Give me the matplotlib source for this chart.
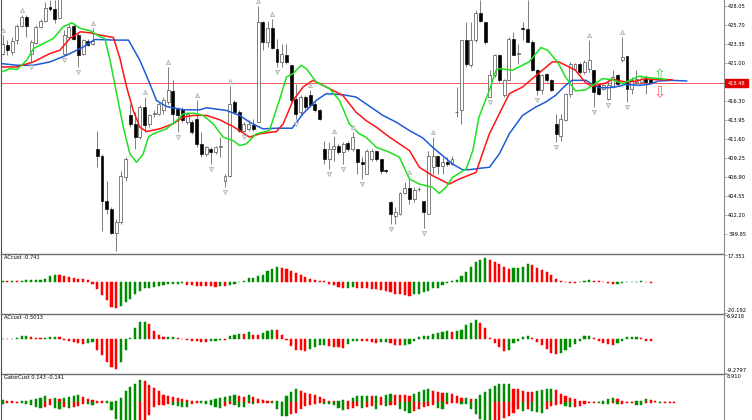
"""Candles with Alligator lines, fractals and three oscillator panels (MT5 style)."""

import numpy as np
import matplotlib
matplotlib.use("Agg")
from matplotlib import pyplot as plt
from matplotlib import transforms
from matplotlib.lines import Line2D
from matplotlib.patches import Rectangle

# ---------------------------------------------------------------- data
opens = [422.17, 423.20, 422.38, 423.83, 425.57, 426.64, 422.17, 423.49, 425.48, 426.23,
         427.89, 427.64, 426.52, 422.17, 424.24, 425.57, 424.45, 422.17, 423.74, 423.33,
         410.36, 409.53, 403.93, 402.89, 399.99, 401.24, 406.83, 414.50, 413.38, 411.81,
         415.54, 413.38, 414.62, 414.71, 415.12, 416.16, 417.53, 415.33, 415.33, 413.67,
         413.67, 414.09, 410.98, 409.73, 410.36, 409.94, 410.56, 406.42, 407.04, 416.16,
         414.91, 412.63, 412.84, 413.26, 413.67, 426.11, 423.62, 425.28, 422.79, 421.13,
         421.96, 420.72, 416.57, 414.91, 416.78, 416.99, 415.95, 415.20, 410.36, 409.11,
         410.36, 410.77, 409.94, 411.06, 410.36, 410.36, 408.70, 407.25, 409.11, 410.15,
         409.11, 407.74, 403.72, 402.07, 402.27, 404.84, 405.50, 404.14, 405.38, 403.93,
         402.27, 408.08, 409.53, 408.28, 408.70, 408.49, 414.91, 415.12, 423.83, 420.72,
         423.83, 427.14, 426.11, 416.78, 419.47, 421.96, 416.99, 418.85, 424.03, 422.09,
         425.32, 425.15, 423.62, 420.10, 417.61, 419.60, 418.93, 413.46, 412.01, 413.88,
         417.19, 420.30, 420.92, 419.89, 420.30, 420.10, 418.23, 417.82, 416.57, 418.02,
         419.47, 421.34, 421.84, 417.82, 418.64, 418.64, 419.06, 419.06]
highs = [424.45, 423.83, 424.16, 425.82, 426.93, 426.93, 423.83, 425.69, 426.40, 428.59,
         428.80, 428.80, 429.20, 425.07, 425.90, 425.98, 424.86, 424.03, 424.03, 425.28,
         412.63, 409.73, 406.42, 403.10, 401.65, 407.66, 409.32, 415.95, 414.91, 415.74,
         416.78, 414.71, 415.12, 416.16, 416.78, 420.51, 418.85, 415.54, 415.54, 414.91,
         413.88, 416.37, 412.43, 410.77, 410.56, 410.77, 411.81, 407.25, 418.11, 416.37,
         415.12, 413.67, 413.88, 414.09, 428.00, 426.20, 426.25, 426.40, 424.03, 423.41,
         423.41, 420.72, 418.44, 416.99, 416.99, 417.61, 416.16, 415.33, 411.39, 411.19,
         412.01, 410.98, 411.19, 411.39, 412.43, 410.36, 409.32, 410.36, 410.36, 410.15,
         409.11, 407.87, 403.93, 403.10, 404.97, 406.21, 406.83, 405.59, 405.59, 403.93,
         410.15, 411.81, 409.53, 409.32, 409.32, 409.53, 418.02, 423.83, 426.11, 426.11,
         427.56, 428.80, 426.11, 420.10, 422.17, 422.17, 419.06, 424.16, 424.86, 423.41,
         426.11, 428.80, 423.83, 420.30, 419.68, 419.76, 419.06, 414.71, 414.71, 417.28,
         421.13, 421.01, 421.13, 421.34, 423.83, 420.10, 418.44, 418.44, 418.85, 420.10,
         419.60, 424.24, 421.84, 419.27, 420.10, 419.47, 419.47, 419.18]
lows = [421.96, 421.96, 421.96, 423.41, 425.48, 424.24, 421.13, 423.41, 425.28, 426.11,
        427.47, 425.90, 426.40, 421.96, 424.03, 423.83, 420.51, 421.96, 423.08, 423.20,
        408.08, 400.20, 402.27, 399.78, 397.71, 401.03, 406.42, 413.05, 410.36, 411.60,
        412.43, 413.13, 414.29, 414.50, 414.71, 415.95, 413.46, 412.43, 413.67, 413.46,
        412.22, 410.56, 409.32, 409.53, 408.49, 409.73, 409.32, 405.59, 406.83, 414.71,
        412.43, 412.43, 412.63, 412.63, 413.67, 422.58, 423.00, 422.79, 420.51, 420.51,
        420.92, 416.16, 414.09, 414.50, 415.33, 415.54, 414.91, 413.96, 408.49, 407.87,
        408.90, 409.73, 408.49, 410.15, 410.15, 407.25, 406.62, 407.25, 408.90, 408.90,
        407.25, 407.33, 401.03, 401.03, 402.19, 404.76, 403.52, 403.72, 405.17, 400.61,
        402.27, 407.25, 407.25, 407.25, 408.28, 408.41, 414.29, 413.46, 420.51, 420.51,
        423.62, 426.11, 423.41, 416.78, 419.27, 418.64, 416.78, 418.85, 421.96, 420.92,
        423.83, 423.62, 420.01, 416.99, 417.19, 418.64, 417.53, 411.18, 411.39, 413.80,
        416.78, 420.10, 419.68, 419.68, 419.89, 415.54, 416.99, 417.69, 416.37, 417.94,
        418.23, 421.13, 416.16, 417.19, 418.44, 418.52, 417.19, 418.35]
closes = [423.41, 422.58, 423.74, 425.57, 426.73, 425.57, 423.62, 425.48, 426.23, 427.76,
          427.64, 426.40, 428.90, 424.45, 425.48, 423.91, 421.96, 423.83, 423.20, 423.74,
          409.53, 403.93, 402.89, 399.99, 401.24, 407.04, 409.11, 413.46, 411.81, 415.54,
          413.26, 414.50, 414.79, 415.95, 416.37, 417.61, 414.71, 414.50, 413.88, 414.71,
          412.43, 410.98, 409.73, 410.56, 409.94, 410.56, 410.77, 407.04, 415.95, 414.91,
          412.63, 413.46, 413.46, 412.84, 426.11, 423.62, 425.28, 422.85, 421.13, 422.17,
          421.13, 416.37, 414.71, 416.78, 415.54, 415.74, 415.12, 414.09, 409.11, 410.36,
          410.77, 409.94, 410.98, 410.36, 411.81, 408.70, 408.49, 410.15, 410.15, 409.11,
          407.66, 407.58, 402.27, 402.48, 404.84, 405.50, 404.14, 405.26, 405.40, 402.48,
          409.53, 409.53, 408.28, 408.70, 408.49, 409.11, 414.95, 423.83, 420.92, 423.83,
          427.14, 426.15, 423.62, 419.47, 421.96, 418.85, 418.85, 424.03, 422.00, 422.25,
          425.15, 423.65, 420.10, 417.61, 419.47, 418.85, 417.61, 412.22, 414.09, 417.19,
          420.92, 420.92, 419.89, 421.13, 421.34, 417.40, 417.19, 418.23, 418.23, 419.27,
          418.44, 421.76, 417.82, 418.85, 419.06, 419.06, 418.64, 418.48]

last_price = 418.48
price_ticks = [428.05, 425.70, 423.35, 421.00, 416.30, 413.95, 411.60,
               409.25, 406.90, 404.55, 402.20, 399.85]

# Alligator lines, read at sample bars (bar position, price)
jaw_x = [-0.2, 3.0, 6.5, 10.0, 13.5, 17.1, 19.5, 24.1, 26.6, 29.0, 31.1, 32.5, 34.6, 38.2,
         41.7, 43.1, 47.3, 50.1, 52.2, 55.0, 57.9, 61.2, 63.5, 66.3, 68.4, 71.9, 74.7, 76.8,
         80.4, 83.2, 86.0, 88.8, 90.9, 93.0, 95.1, 97.2, 98.6, 101.4, 102.9, 105.0, 107.1,
         109.9, 112.7, 114.8, 116.9, 119.0, 120.4, 123.3, 124.7, 126.1, 128.2, 130.3, 131.7,
         134.5, 136.6, 138.7, 141.5, 144.6]
jaw_y = [420.92, 420.72, 420.72, 421.13, 421.96, 423.00, 423.91, 423.83, 423.83, 421.34,
         418.44, 416.37, 415.62, 415.20, 415.20, 415.45, 415.12, 414.50, 413.67, 412.84,
         412.92, 412.92, 414.71, 416.37, 417.19, 417.07, 416.78, 415.95, 414.50, 413.67,
         412.63, 411.72, 410.56, 409.53, 408.49, 407.78, 407.78, 407.99, 408.08, 409.73,
         412.22, 414.50, 415.54, 416.16, 416.99, 418.23, 418.85, 418.85, 418.35, 417.94,
         417.94, 418.11, 418.35, 418.23, 418.35, 418.77, 418.85, 418.77]
teeth_x = [-0.2, 3.0, 6.5, 10.0, 12.1, 14.2, 16.4, 18.5, 20.6, 23.4, 24.8, 26.2, 27.6, 29.0,
           30.4, 33.2, 36.0, 38.2, 40.3, 43.1, 45.9, 48.7, 52.2, 54.3, 57.9, 59.3, 61.4, 63.5,
           65.6, 67.7, 71.9, 74.7, 76.8, 79.0, 81.8, 83.9, 86.0, 88.1, 90.9, 93.7, 94.4, 96.5,
           100.1, 101.4, 102.9, 105.0, 107.1, 109.9, 112.0, 114.1, 116.2, 117.6, 119.0, 121.1,
           123.3, 124.7, 127.5, 128.9, 131.7, 133.8, 135.9, 138.0, 141.5]
teeth_y = [420.51, 420.51, 421.13, 422.17, 422.58, 424.03, 424.86, 424.74, 424.45, 424.16,
           421.55, 418.02, 415.12, 413.05, 412.51, 412.84, 413.46, 414.29, 414.50, 414.50,
           413.96, 413.13, 411.81, 412.22, 412.51, 413.46, 416.37, 418.02, 418.85, 418.23,
           416.99, 414.91, 413.88, 413.05, 411.81, 410.98, 410.15, 408.08, 407.04, 406.21,
           406.00, 406.62, 407.45, 409.73, 412.22, 414.71, 417.19, 418.02, 419.06, 420.10,
           421.13, 421.13, 420.72, 420.10, 418.52, 418.11, 418.52, 418.98, 418.64, 418.73,
           419.06, 418.93, 418.93]
lips_x = [-0.2, 1.6, 3.0, 5.1, 6.5, 8.6, 10.7, 12.8, 14.6, 16.4, 18.5, 20.6, 21.6, 22.7, 24.1,
          25.5, 26.9, 28.3, 29.7, 30.8, 31.8, 34.6, 36.8, 38.2, 40.3, 42.4, 44.5, 46.6, 48.7,
          50.1, 51.5, 53.6, 56.4, 58.5, 60.0, 61.4, 63.1, 64.2, 66.3, 69.1, 71.2, 73.3, 75.4,
          76.8, 79.0, 81.8, 83.9, 86.0, 88.1, 90.9, 92.3, 93.7, 95.1, 98.0, 99.4, 100.7, 102.9,
          104.3, 105.0, 107.8, 111.3, 113.8, 115.2, 117.3, 119.0, 121.1, 123.3, 124.7, 126.8,
          128.9, 131.0, 133.1, 134.5, 136.6, 138.7, 140.2]
lips_y = [419.89, 420.30, 420.18, 421.34, 422.79, 423.41, 424.03, 425.48, 425.98, 425.28,
          424.99, 424.24, 424.03, 421.34, 417.19, 413.05, 409.73, 408.70, 409.73, 411.81,
          412.22, 412.84, 413.88, 414.71, 414.79, 414.50, 413.46, 411.81, 411.39, 410.77,
          410.98, 412.22, 412.63, 416.37, 419.27, 419.68, 420.72, 420.30, 418.64, 417.82,
          416.37, 413.46, 412.22, 411.81, 410.56, 409.94, 409.32, 406.62, 406.00, 405.59,
          404.84, 405.59, 406.83, 407.87, 410.15, 414.29, 417.61, 420.10, 420.30, 420.10,
          421.13, 422.91, 422.58, 421.13, 419.27, 417.53, 417.69, 418.23, 419.06, 418.93,
          418.44, 418.98, 419.35, 419.18, 419.06, 418.98]

fractal_up = [0, 4, 19, 30, 35, 41, 48, 54, 57, 65, 70, 74, 86, 91, 101, 124, 131]
fractal_dn = [6, 13, 16, 24, 37, 44, 47, 51, 58, 62, 69, 72, 76, 82, 89, 103, 113, 117,
              125, 128, 132]

signal_bar = 138.8
signal_up_price = 419.55
signal_dn_price = 417.35

ac_fast = [0.3, 0.2, 0.3, 0.2, 0.6, 0.7, 0.8, 1.0, 1.2, 1.8,
           3.5, 4.4, 4.0, 3.5, 2.6, 2.2, 1.8, 1.5, 1.3, -1.3,
           -4.8, -8.8, -12.1, -16.5, -17.1, -15.4, -13.2, -11.0, -8.3, -6.1,
           -4.4, -3.9, -3.3, -2.9, -2.2, -1.8, -1.5, -1.3, -1.1, -2.2,
           -2.5, -2.6, -2.9, -3.0, -3.1, -3.2, -2.9, -3.0, -2.2, -1.5,
           -0.2, 0.2, 2.0, 2.2, 3.3, 4.4, 6.6, 8.3, 9.2, 9.0,
           8.3, 7.0, 5.5, 4.0, 3.1, 1.8, 0.9, 0.4, 0.2, -1.3,
           -2.2, -3.3, -4.1, -4.0, -3.7, -4.0, -4.3, -4.4, -4.8, -5.0,
           -5.5, -6.1, -6.6, -7.7, -8.3, -8.8, -9.2, -8.3, -7.7, -6.6,
           -5.9, -4.4, -4.0, -2.2, -1.1, 0.2, 1.3, 3.5, 6.1, 9.2,
           12.3, 14.1, 14.9, 13.6, 12.7, 11.0, 9.2, 8.3, 8.6, 8.8,
           9.2, 11.0, 10.5, 8.8, 7.7, 6.1, 4.0, 1.8, 0.4, -0.4,
           -0.7, -0.9, -0.4, 0.2, 0.7, 0.6, 0.4, -0.1, -1.1, -1.8,
           -1.5, -0.7, -0.2, -0.1, 0.0, 0.1, -0.2, -0.741]
ac_slow = [0.1, 0.05, 0.1, 0.4, 0.85, 0.9, 0.66, 0.5, 0.47, 0.55,
           0.6, 0.66, 0.57, -0.1, -0.3, -0.66, -1.04, -1.2, -0.85, -0.75,
           -2.9, -4.3, -6.2, -7.6, -8.1, -6.2, -2.9, 0.4, 3.2, 4.8,
           4.9, 4.2, 2.3, 1.3, 0.6, 0.66, 0.7, 0.4, 0.1, -0.1,
           -0.3, -0.5, -0.57, -0.6, -0.47, -0.3, -0.1, -0.15, 0.85, 1.3,
           1.6, 1.5, 2.0, 1.3, 1.2, 1.8, 2.3, 2.7, 2.5, 1.3,
           -0.1, -1.8, -2.9, -3.0, -3.1, -2.7, -2.0, -1.5, -1.4, -1.8,
           -2.0, -2.2, -2.3, -1.2, -0.4, -0.3, -0.35, -0.5, -0.66, -0.85,
           -0.7, -0.66, -0.85, -1.4, -1.5, -1.4, -1.2, -0.5, 0.66, 0.85,
           1.1, 1.6, 1.8, 2.0, 2.3, 2.2, 2.35, 2.7, 4.0, 4.6,
           5.3, 4.6, 3.1, 0.4, -0.85, -2.0, -3.1, -2.9, -0.85, -0.5,
           0.57, 1.1, 0.47, -0.57, -1.5, -2.5, -3.7, -3.9, -3.7, -2.9,
           -2.2, -1.2, -0.3, 0.85, 1.1, 0.4, -0.3, -0.85, -1.2, -1.6,
           -0.85, -0.3, 0.57, 0.66, 0.7, 0.4, -0.3, -0.5013]
gator_up = [0.6, 0.5, 0.3, 0.2, 0.25, 0.3, 0.6, 1.0, 1.5, 2.0,
            1.2, 1.4, 1.0, 1.5, 1.8, 2.0, 2.2, 1.6, 1.0, 0.8,
            0.4, 0.3, 0.5, 0.2, 0.5, 1.3, 3.5, 5.0, 6.0, 7.0,
            6.8, 5.5, 4.5, 3.5, 2.3, 2.0, 1.6, 1.3, 1.0, 0.6,
            0.4, 0.3, 0.35, 0.5, 0.8, 1.0, 1.5, 1.7, 1.9, 2.2,
            2.1, 1.7, 2.2, 1.6, 1.1, 0.6, 0.3, 0.25, 0.55, 0.2,
            2.0, 3.3, 4.1, 3.5, 3.1, 2.8, 2.2, 1.6, 0.9, 0.55,
            0.3, 0.55, 0.6, 0.5, 1.3, 1.9, 2.0, 2.1, 1.9, 2.0,
            1.8, 2.4, 2.6, 2.45, 2.4, 2.2, 2.1, 2.8, 3.3, 3.9,
            4.1, 3.5, 3.3, 3.0, 3.1, 2.75, 2.0, 1.3, 1.4, 0.9,
            1.0, 2.2, 3.3, 4.4, 5.2, 5.7, 5.8, 5.85, 4.4, 4.2,
            3.5, 3.3, 3.2, 3.5, 3.9, 4.1, 4.2, 3.9, 2.75, 2.0,
            1.4, 1.1, 0.55, 0.5, 0.2, 0.15, 0.2, 0.55, 0.9, 1.3,
            0.9, 0.55, 0.2, 0.15, 0.33, 0.55, 0.9, 0.85, 0.55, 0.2,
            0.18, 0.16, 0.143]
gator_dn = [0.5, 0.4, 0.2, 0.2, 0.3, 0.6, 1.0, 1.5, 2.0, 1.5,
            1.0, 2.0, 2.1, 1.5, 1.8, 1.5, 1.2, 0.6, 0.7, 0.8,
            0.3, 0.2, 0.3, 2.5, 5.5, 6.5, 7.0, 7.5, 7.8, 7.2,
            6.3, 4.0, 1.5, 1.0, 0.9, 0.6, 0.8, 1.2, 1.5, 1.6,
            0.6, 0.3, 0.35, 0.6, 1.0, 1.5, 1.8, 1.2, 0.6, 1.0,
            1.4, 1.6, 0.2, 0.5, 0.2, 0.1, 0.1, 0.2, 2.2, 4.4,
            4.5, 3.9, 3.3, 2.2, 1.1, 0.9, 0.6, 0.3, 0.55, 0.6,
            0.9, 2.0, 2.4, 2.2, 1.8, 1.3, 2.0, 1.6, 1.3, 2.2,
            0.9, 1.1, 1.0, 0.9, 2.2, 2.7, 3.3, 2.7, 2.2, 1.6,
            1.1, 1.0, 2.0, 2.1, 0.55, 0.2, 0.15, 0.55, 0.6, 2.2,
            3.9, 5.5, 6.5, 7.0, 6.8, 6.2, 5.0, 4.4, 3.3, 2.2,
            2.7, 2.2, 2.7, 3.1, 3.3, 2.2, 1.1, 0.9, 0.55, 1.3,
            1.6, 1.5, 1.1, 0.55, 0.2, 0.15, 0.2, 0.55, 0.6, 0.2,
            0.55, 0.5, 0.2, 0.15, 0.9, 1.0, 0.2, 0.1, 0.05, 0.2,
            0.18, 0.16, 0.141]

ac_fast_range = (-20.192, 17.351)
ac_slow_range = (-9.2797, 6.9218)
gator_top = 8.910

# ---------------------------------------------------------------- layout
W, H = 752, 420
LEFT, RIGHT = 1.5, 723.5
X_RANGE = (-0.25, 152.4)
GREEN, RED = "#008c00", "#ff0000"
AXIS_GREY = "#8c8c8c"
FS = 3.7

fig = plt.figure(figsize=(W / 100, H / 100), dpi=100)


def add_panel(top, bottom):
    ax = fig.add_axes([LEFT / W, 1 - bottom / H, (RIGHT - LEFT) / W, (bottom - top) / H])
    ax.set_xlim(*X_RANGE)
    for side in ("top", "right", "bottom"):
        ax.spines[side].set_visible(False)
    ax.spines["left"].set_color("#505050")
    ax.spines["left"].set_linewidth(0.8)
    ax.set_xticks([])
    ax.yaxis.tick_right()
    ax.tick_params(axis="y", length=2.2, width=0.5, color=AXIS_GREY, pad=1.2,
                   labelsize=FS, labelcolor="black")
    return ax


def up_down_colors(values):
    vals = np.asarray(values)
    rising = np.concatenate([[True], vals[1:] > vals[:-1]])
    return np.where(rising, GREEN, RED)


def histogram(ax, values, sign=1.0):
    vals = np.asarray(values)
    cols = up_down_colors(vals)
    ax.bar(np.arange(len(vals)), sign * vals, width=0.45, color=cols,
           edgecolor=cols, linewidth=0.35, zorder=2)


# main price panel
ax = add_panel(0, 253.5)
ax.set_ylim(397.4, 428.8)
x = np.arange(len(opens))
o, h, l, c = (np.asarray(v) for v in (opens, highs, lows, closes))
bull = c >= o
ax.axhline(last_price, color="#ff3b3b", lw=0.6, zorder=1)
ax.vlines(x, l, h, color="#5a5a5a", lw=0.55, zorder=2)
body_low = np.minimum(o, c)
body_h = np.maximum(np.abs(c - o), 0.05)
ax.bar(x[bull], body_h[bull], bottom=body_low[bull], width=0.62, color="white",
       edgecolor="#3c3c3c", linewidth=0.45, zorder=3)
ax.bar(x[~bull], body_h[~bull], bottom=body_low[~bull], width=0.62, color="black",
       edgecolor="black", linewidth=0.45, zorder=3)

ax.plot(jaw_x, jaw_y, color="#1e5bd8", lw=1.1, zorder=4)
ax.plot(teeth_x, teeth_y, color="#ff1414", lw=1.1, zorder=4)
ax.plot(lips_x, lips_y, color="#1ee01e", lw=1.1, zorder=4)

up_shift = ax.transData + transforms.ScaledTranslation(0, 5 / 100, fig.dpi_scale_trans)
dn_shift = ax.transData + transforms.ScaledTranslation(0, -5 / 100, fig.dpi_scale_trans)
ax.plot(fractal_up, h[fractal_up], "^", ms=3.0, mfc="#ececec", mec="#a8a8a8", mew=0.5,
        transform=up_shift, zorder=5, clip_on=False)
ax.plot(fractal_dn, l[fractal_dn], "v", ms=3.0, mfc="#ececec", mec="#a8a8a8", mew=0.5,
        transform=dn_shift, zorder=5)

ax.text(signal_bar, signal_up_price, "\u21e7", color="#3cd23c", fontsize=10,
        ha="center", va="center", zorder=6)
ax.text(signal_bar, signal_dn_price, "\u21e9", color="#ff5a5a", fontsize=10.5,
        ha="center", va="center", zorder=6)

ax.set_yticks(price_ticks)
ax.set_yticklabels([f"{t:.2f}" for t in price_ticks])

box_tr = transforms.blended_transform_factory(ax.transAxes, ax.transData)
half = 4.0 / 253.5 * (428.8 - 397.4)
ax.add_patch(Rectangle((1 + 1.0 / 722, last_price - half), 23.5 / 722, 2 * half,
                       transform=box_tr, color="#e00000", clip_on=False, zorder=6))
ax.text(1 + 12.8 / 722, last_price, f"{last_price:.2f}", transform=box_tr, color="white",
        fontsize=FS, ha="center", va="center", zorder=7)

# oscillator panels
panels = [
    (254.5, 313.0, ac_fast, ac_fast_range, "ACcust -0.741", ("17.351", "-20.192")),
    (314.5, 373.0, ac_slow, ac_slow_range, "ACcust -0.5013", ("6.9218", "-9.2797")),
]
for top, bottom, vals, (lo, hi), title, (top_lbl, bot_lbl) in panels:
    pax = add_panel(top, bottom)
    pax.set_ylim(lo, hi)
    histogram(pax, vals)
    pax.set_yticks([lo, hi])
    pax.set_yticklabels([])
    pax.text(0.004, 0.985, title, transform=pax.transAxes, fontsize=FS, va="top")
    pax.text(1 + 3.5 / 722, 1.0, top_lbl, transform=pax.transAxes, fontsize=FS, va="top")
    pax.text(1 + 3.5 / 722, 0.0, bot_lbl, transform=pax.transAxes, fontsize=FS,
             va="bottom")

gax = add_panel(374.5, 430.0)
gax.set_ylim(-gator_top, gator_top)
histogram(gax, gator_up)
histogram(gax, gator_dn, sign=-1.0)
gax.set_yticks([gator_top])
gax.set_yticklabels([])
gax.text(0.004, 0.985, "GatorCust 0.143 -0.141", transform=gax.transAxes, fontsize=FS,
         va="top")
gax.text(1 + 3.5 / 722, 1.0, f"{gator_top:.3f}", transform=gax.transAxes, fontsize=FS,
         va="top")

# separators and price axis line
for y_px in (254.0, 313.8, 373.8):
    fig.add_artist(Line2D([LEFT / W, RIGHT / W], [1 - y_px / H] * 2, color="#6b6b6b",
                          lw=1.0))
fig.add_artist(Line2D([RIGHT / W] * 2, [0, 1], color=AXIS_GREY, lw=0.8))

fig.savefig("out.png", dpi=100)
